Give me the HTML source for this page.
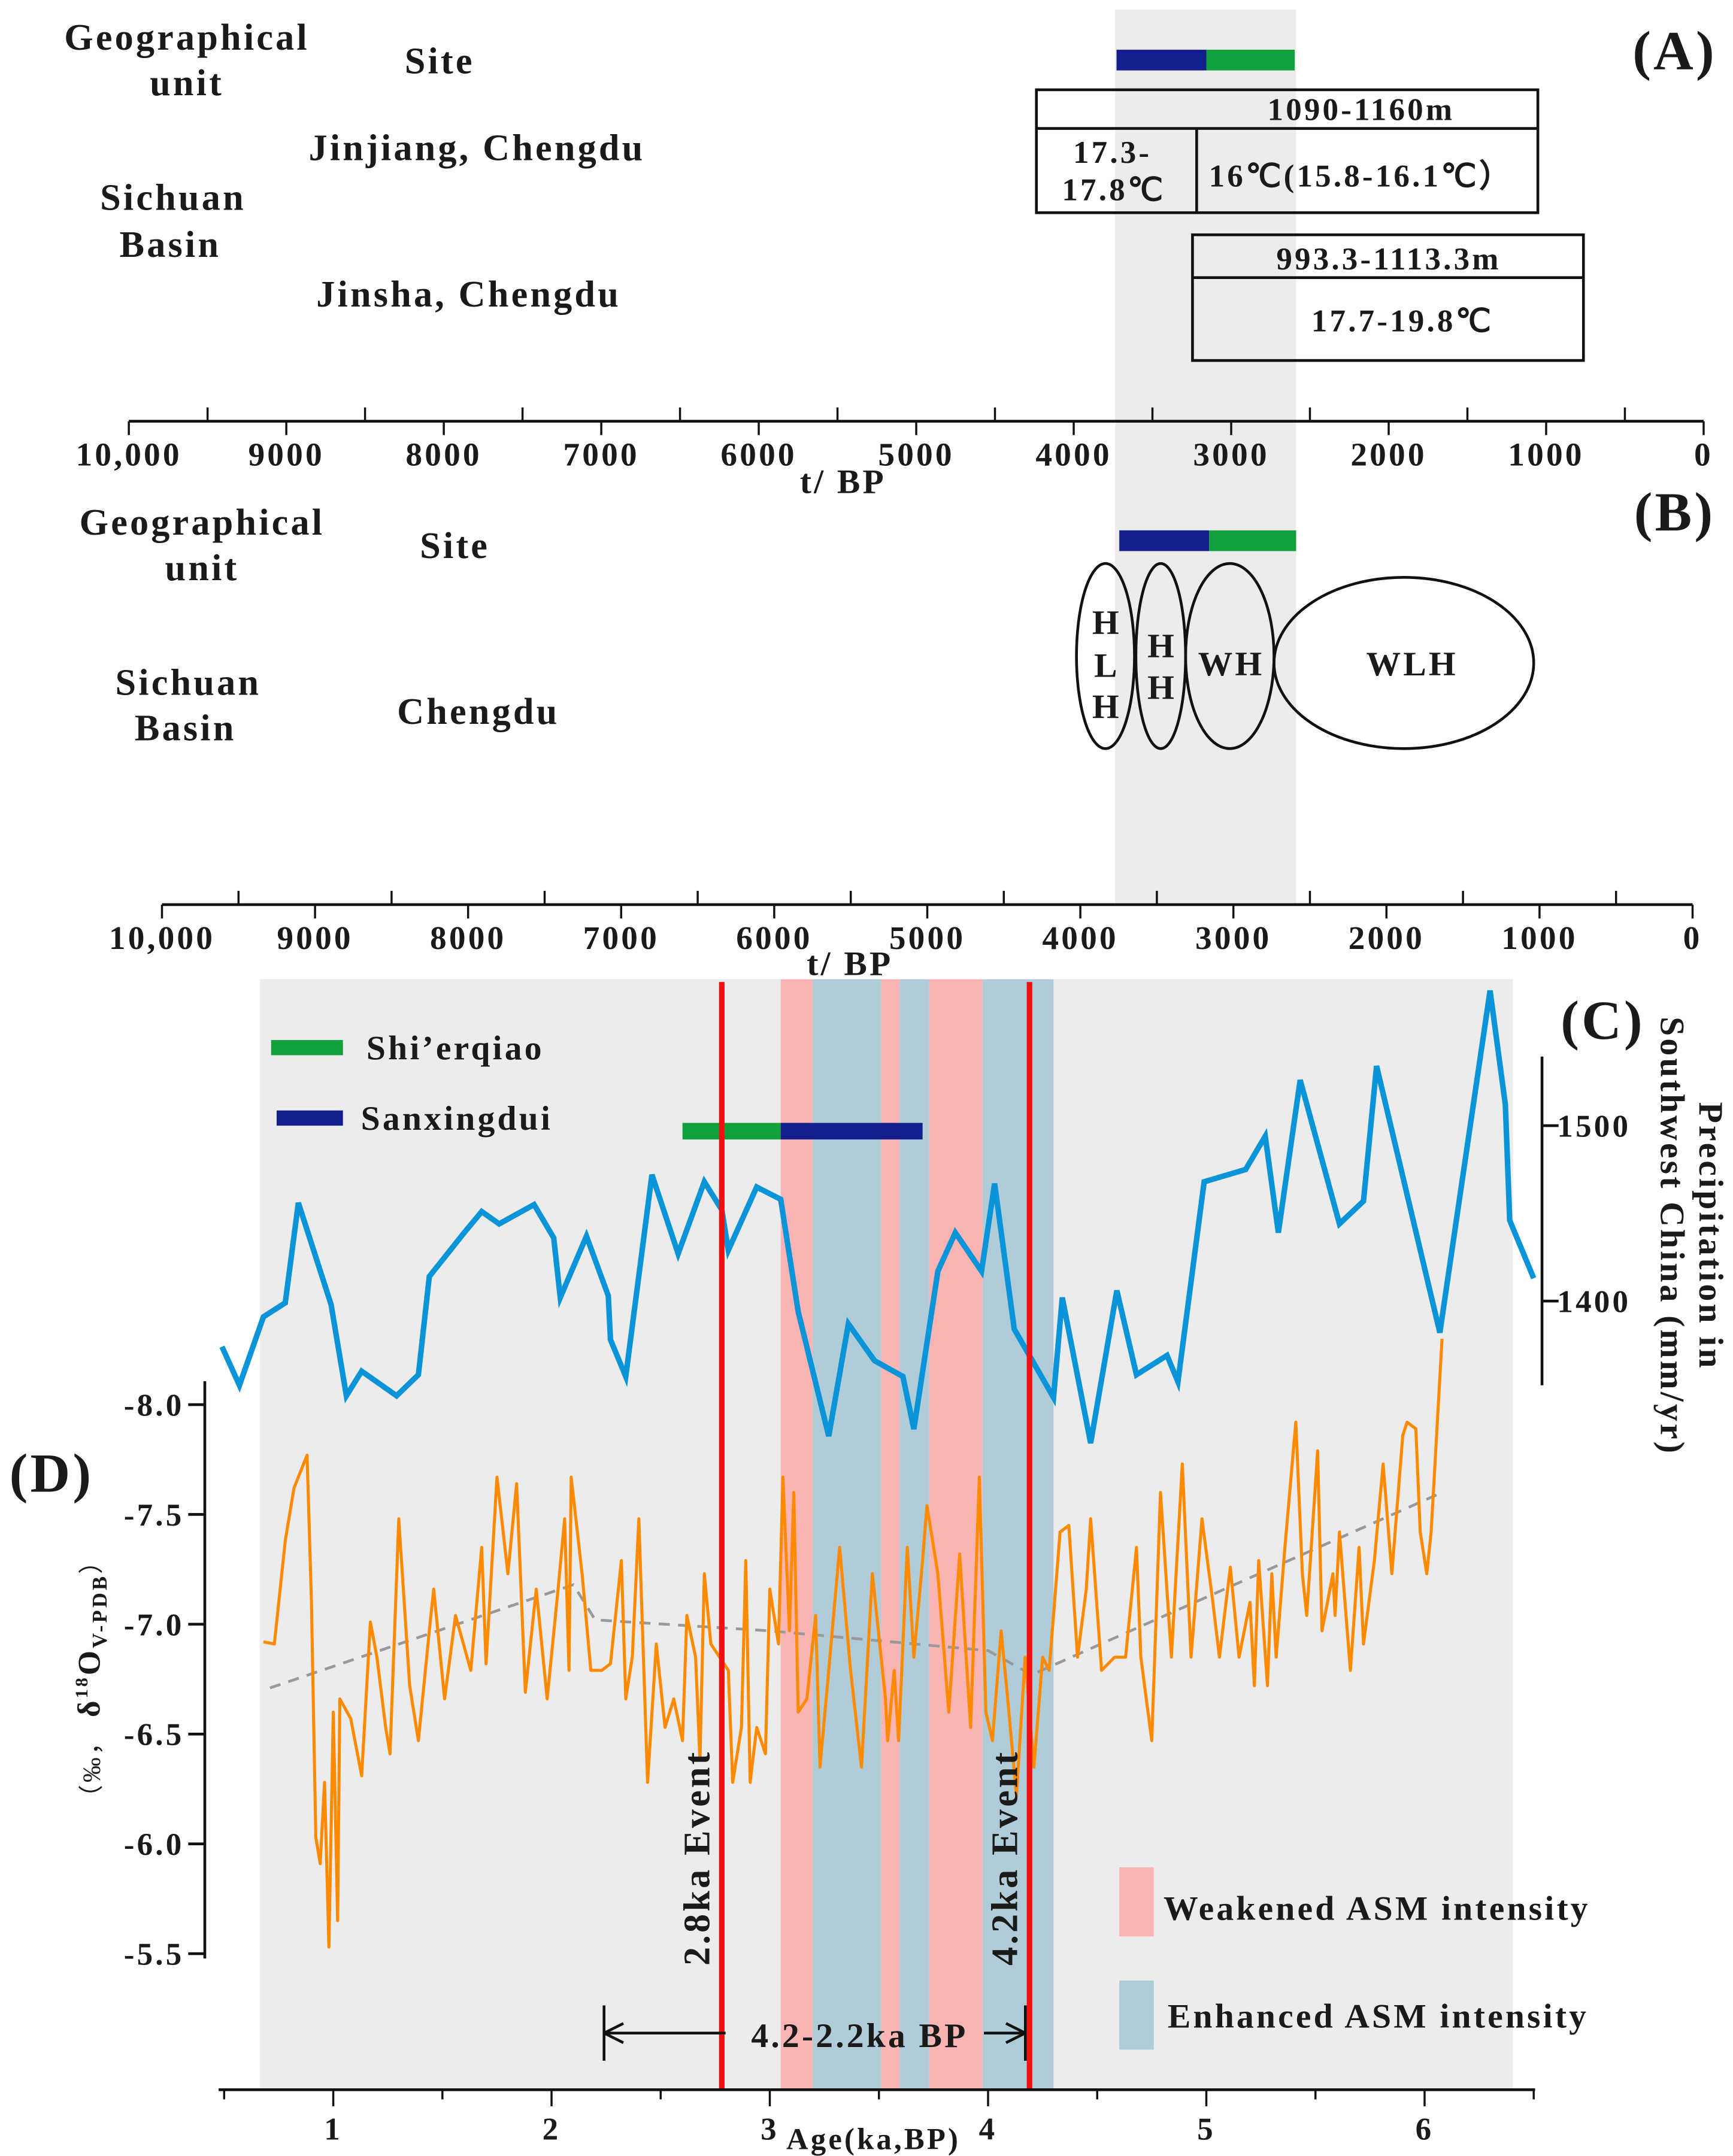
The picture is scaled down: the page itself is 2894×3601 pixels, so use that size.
<!DOCTYPE html>
<html><head><meta charset="utf-8"><style>
html,body{margin:0;padding:0;background:#fff}
svg{display:block}
text{font-family:"Liberation Serif",serif;font-weight:bold;fill:#1a1a1a;letter-spacing:1.8px}
</style></head><body>
<svg id="fig" width="2894" height="3601" viewBox="0 0 1254 1561" xmlns="http://www.w3.org/2000/svg">
<rect width="1254" height="1561" fill="#fff"/>
<rect x="807" y="7" width="131" height="648" fill="#ececec"/>

<g font-size="27">
<text x="1212" y="50" font-size="40" text-anchor="middle">(A)</text>
<text x="135" y="36" text-anchor="middle">Geographical</text>
<text x="135" y="69" text-anchor="middle">unit</text>
<text x="318" y="53" text-anchor="middle">Site</text>
<text x="345" y="116" text-anchor="middle">Jinjiang, Chengdu</text>
<text x="125" y="152" text-anchor="middle">Sichuan</text>
<text x="123" y="186" text-anchor="middle">Basin</text>
<text x="339" y="222" text-anchor="middle">Jinsha, Chengdu</text>
<rect x="808" y="36" width="65" height="15" fill="#141e8c"/>
<rect x="873" y="36" width="64" height="15" fill="#12a03c"/>
<g fill="none" stroke="#111" stroke-width="2">
<rect x="750" y="65" width="363" height="89"/>
<line x1="750" y1="93" x2="1113" y2="93"/><line x1="866" y1="93" x2="866" y2="154"/>
<rect x="863" y="170" width="283" height="91"/>
<line x1="863" y1="201" x2="1146" y2="201"/>
</g>
<g font-size="23">
<text x="985" y="87" text-anchor="middle">1090-1160m</text>
<text x="805" y="118" text-anchor="middle">17.3-</text>
<text x="806" y="145" text-anchor="middle">17.8℃</text>
<text x="985" y="135" text-anchor="middle">16℃(15.8-16.1℃）</text>
<text x="1005" y="195" text-anchor="middle">993.3-1113.3m</text>
<text x="1015" y="240" text-anchor="middle">17.7-19.8℃</text>
</g>
<g id="axisA"></g>
</g>

<g font-size="27">
<text x="1212" y="384" font-size="40" text-anchor="middle">(B)</text>
<text x="146" y="387" text-anchor="middle">Geographical</text>
<text x="146" y="420" text-anchor="middle">unit</text>
<text x="329" y="404" text-anchor="middle">Site</text>
<text x="136" y="503" text-anchor="middle">Sichuan</text>
<text x="134" y="536" text-anchor="middle">Basin</text>
<text x="346" y="524" text-anchor="middle">Chengdu</text>
<rect x="810" y="384" width="65" height="15" fill="#141e8c"/>
<rect x="875" y="384" width="63" height="15" fill="#12a03c"/>
<g fill="none" stroke="#111" stroke-width="2">
<ellipse cx="800" cy="475" rx="21" ry="67"/>
<ellipse cx="840" cy="475" rx="18" ry="67"/>
<ellipse cx="890" cy="475" rx="32" ry="67"/>
<ellipse cx="1016" cy="480" rx="94" ry="62"/>
</g>
<g font-size="25" text-anchor="middle">
<text x="801" y="459">H</text><text x="801" y="490">L</text><text x="801" y="520">H</text>
<text x="841" y="476">H</text><text x="841" y="506">H</text>
<text x="891" y="489">WH</text>
<text x="1022" y="489">WLH</text>
</g>
<g id="axisB"></g>
</g>

<g id="chart"></g>
</svg>
<script>
const timeTickLabels=["10,000","9000","8000","7000","6000","5000","4000","3000","2000","1000","0"];
const ageTicks=[1,2,3,4,5,6];
const d18OTicks=[-8.0,-7.5,-7.0,-6.5,-6.0,-5.5];
const precipTicks=[1500,1400];
const weakenedBands=[[3.05,3.196],[3.51,3.595],[3.73,3.975]];
const enhancedBands=[[3.196,3.51],[3.595,3.73],[3.975,4.30]];
const eventAges=[2.78,4.19];
const shierqiaoRange=[2.60,3.05];
const sanxingduiRange=[3.05,3.70];
const precipAges=[0.49,0.57,0.68,0.78,0.84,0.99,1.06,1.13,1.29,1.39,1.44,1.60,1.68,1.76,1.92,2.01,2.04,2.16,2.26,2.27,2.34,2.46,2.58,2.70,2.78,2.81,2.94,3.05,3.13,3.27,3.36,3.48,3.61,3.66,3.77,3.85,3.97,4.03,4.12,4.30,4.34,4.47,4.59,4.68,4.82,4.87,4.99,5.18,5.27,5.33,5.43,5.61,5.72,5.78,6.07,6.30,6.37,6.39,6.50];
const precipValues=[1374,1352,1391,1399,1456,1398,1346,1360,1346,1358,1414,1439,1451,1444,1455,1436,1402,1437,1403,1378,1357,1472,1427,1468,1452,1429,1465,1458,1394,1323,1387,1366,1357,1327,1417,1439,1417,1467,1384,1345,1402,1319,1406,1358,1369,1354,1468,1475,1494,1439,1526,1444,1457,1534,1382,1577,1512,1446,1413];
const d18OAges=[0.68,0.73,0.78,0.82,0.88,0.90,0.92,0.94,0.96,0.98,1.00,1.02,1.03,1.08,1.13,1.17,1.20,1.24,1.26,1.30,1.35,1.39,1.44,1.46,1.51,1.56,1.63,1.68,1.70,1.75,1.80,1.84,1.88,1.93,1.98,2.03,2.06,2.08,2.09,2.14,2.18,2.23,2.27,2.32,2.34,2.37,2.40,2.44,2.48,2.52,2.56,2.60,2.62,2.66,2.68,2.70,2.73,2.77,2.81,2.83,2.87,2.89,2.91,2.94,2.98,3.00,3.04,3.06,3.09,3.11,3.13,3.17,3.21,3.23,3.27,3.32,3.37,3.42,3.47,3.53,3.54,3.57,3.59,3.63,3.66,3.70,3.72,3.77,3.82,3.87,3.92,3.96,3.99,4.02,4.06,4.09,4.13,4.17,4.21,4.25,4.28,4.33,4.37,4.41,4.45,4.47,4.52,4.58,4.63,4.68,4.70,4.75,4.79,4.84,4.89,4.93,4.98,5.03,5.06,5.11,5.15,5.20,5.22,5.24,5.28,5.30,5.32,5.36,5.41,5.44,5.46,5.51,5.53,5.58,5.59,5.61,5.66,5.70,5.72,5.77,5.81,5.85,5.90,5.92,5.96,5.98,6.01,6.03,6.08];
const d18OValues=[-6.92,-6.91,-7.38,-7.62,-7.77,-7.10,-6.03,-5.91,-6.28,-5.53,-6.60,-5.65,-6.66,-6.57,-6.31,-7.01,-6.85,-6.53,-6.41,-7.48,-6.72,-6.47,-6.97,-7.16,-6.66,-7.04,-6.79,-7.35,-6.82,-7.67,-7.23,-7.64,-6.69,-7.16,-6.66,-7.16,-7.48,-6.79,-7.67,-7.23,-6.79,-6.79,-6.82,-7.29,-6.66,-6.85,-7.48,-6.28,-6.91,-6.53,-6.66,-6.47,-7.04,-6.85,-6.38,-7.23,-6.91,-6.85,-6.79,-6.28,-6.53,-7.29,-6.28,-6.53,-6.41,-7.16,-6.91,-7.67,-6.97,-7.60,-6.60,-6.66,-7.04,-6.35,-6.79,-7.35,-6.79,-6.35,-7.23,-6.66,-6.47,-6.79,-6.47,-7.35,-6.85,-7.29,-7.54,-7.23,-6.60,-7.32,-6.53,-7.67,-6.60,-6.47,-6.97,-6.66,-6.22,-6.85,-6.35,-6.85,-6.79,-7.42,-7.45,-6.85,-7.16,-7.48,-6.79,-6.85,-6.85,-7.35,-6.85,-6.47,-7.60,-6.85,-7.73,-6.85,-7.48,-7.10,-6.85,-7.26,-6.85,-7.10,-6.72,-7.29,-6.72,-7.23,-6.85,-7.35,-7.92,-7.23,-7.04,-7.79,-6.97,-7.23,-7.04,-7.42,-6.79,-7.35,-6.91,-7.29,-7.73,-7.23,-7.86,-7.92,-7.89,-7.42,-7.23,-7.42,-8.30];
const trendAges=[0.71,2.10,2.20,3.00,4.00,4.20,6.08];
const trendValues=[-6.71,-7.18,-7.02,-6.97,-6.88,-6.77,-7.60];

const xAge=a=>83+a*158;
const yD=v=>1017+(v+8)*159;
const yP=p=>815-(p-1500)*1.27;
const NS="http://www.w3.org/2000/svg";
function el(tag,attrs,parent,txt){const e=document.createElementNS(NS,tag);for(const k in attrs)e.setAttribute(k,attrs[k]);if(txt!==undefined)e.textContent=txt;parent.appendChild(e);return e;}

function timeAxis(g,x0,x1,y,ly,tx,ty){
  el('line',{x1:x0,y1:y,x2:x1,y2:y,stroke:'#111','stroke-width':2},g);
  const step=(x1-x0)/10;
  for(let i=0;i<=20;i++){const x=x0+i*step/2;el('line',{x1:x,y1:y-(i%2?10:0),x2:x,y2:y+(i%2?0:10),stroke:'#111','stroke-width':1.5},g);}
  timeTickLabels.forEach((t,i)=>{const lab=el('text',{x:x0+i*step,y:ly,'text-anchor':'middle','font-size':24},g,t);
    
    });
  const tl=el('text',{x:tx,y:ty,'text-anchor':'middle','font-size':25},g,'t/ BP');
  
  
}
timeAxis(document.getElementById('axisA'),93,1233,305,337,610,357);
timeAxis(document.getElementById('axisB'),117,1225,655,687,615,706);

const g=document.getElementById('chart');
const bg=el('rect',{x:188,y:709,width:907,height:804,fill:'#ececec'},g);


weakenedBands.forEach(b=>{const r=el('rect',{x:xAge(b[0]),y:709,width:xAge(b[1])-xAge(b[0]),height:804,fill:'#fbb4b4'},g);
  
  });
enhancedBands.forEach(b=>{const r=el('rect',{x:xAge(b[0]),y:709,width:xAge(b[1])-xAge(b[0]),height:804,fill:'#afccd8'},g);
  
  });

const sb=el('rect',{x:xAge(shierqiaoRange[0]),y:813,width:xAge(shierqiaoRange[1])-xAge(shierqiaoRange[0]),height:12,fill:'#12a03c'},g);


const xb=el('rect',{x:xAge(sanxingduiRange[0]),y:813,width:xAge(sanxingduiRange[1])-xAge(sanxingduiRange[0]),height:12,fill:'#141e8c'},g);



const tr=el('polyline',{points:trendAges.map((a,i)=>xAge(a)+','+yD(trendValues[i])).join(' '),fill:'none',stroke:'#999','stroke-width':2,'stroke-dasharray':'8,6'},g);


const ol=el('polyline',{points:d18OAges.map((a,i)=>xAge(a)+','+yD(d18OValues[i])).join(' '),fill:'none',stroke:'#ff8a00','stroke-width':2.2,'stroke-linejoin':'round'},g);


const pl=el('polyline',{points:precipAges.map((a,i)=>xAge(a)+','+yP(precipValues[i])).join(' '),fill:'none',stroke:'#0b95d8','stroke-width':4,'stroke-linejoin':'miter'},g);



const evNames=['2.8ka Event','4.2ka Event'];
eventAges.forEach((a,i)=>{const l=el('line',{x1:xAge(a),y1:711,x2:xAge(a),y2:1513,stroke:'#f01010','stroke-width':4},g);
  
  
  const t=el('text',{x:0,y:0,'font-size':27,'text-anchor':'middle',transform:`translate(${xAge(a)-9},1345) rotate(-90)`},g,evNames[i]);
  
  });

const ax=el('g',{},g);


el('line',{x1:158,y1:1513,x2:1111,y2:1513,stroke:'#111','stroke-width':2},ax);
for(let a=0.5;a<=6.5;a+=0.5){const x=xAge(a);el('line',{x1:x,y1:1513,x2:x,y2:a%1===0?1525:1520,stroke:'#111','stroke-width':1.5},ax);}
ageTicks.forEach(a=>{const t=el('text',{x:xAge(a),y:1549,'text-anchor':'middle','font-size':23},ax,String(a));
  
  });
const at=el('text',{x:632,y:1556,'text-anchor':'middle','font-size':22},ax,'Age(ka,BP)');



const la=el('g',{},g);


el('line',{x1:148,y1:1000,x2:148,y2:1418,stroke:'#111','stroke-width':2},la);
d18OTicks.forEach(v=>{el('line',{x1:136,y1:yD(v),x2:148,y2:yD(v),stroke:'#111','stroke-width':2},la);
  const t=el('text',{x:133,y:yD(v)+8,'text-anchor':'end','font-size':23},la,v.toFixed(1));
  
  });
const yt=el('text',{'font-size':23,'text-anchor':'middle',transform:'translate(72,1215) rotate(-90)'},la);


yt.innerHTML='<tspan font-weight="normal" font-size="18">（‰，</tspan> <tspan>δ</tspan><tspan font-size="13" dy="-9">18</tspan><tspan dy="9">O</tspan><tspan font-size="15" dy="5">V-PDB</tspan><tspan dy="-5" font-weight="normal" font-size="18">）</tspan>';

const ra=el('g',{},g);


el('line',{x1:1116,y1:765,x2:1116,y2:1003,stroke:'#111','stroke-width':2},ra);
precipTicks.forEach(p=>{el('line',{x1:1116,y1:yP(p),x2:1128,y2:yP(p),stroke:'#111','stroke-width':2},ra);
  const t=el('text',{x:1127,y:yP(p)+8,'font-size':23},ra,String(p));
  
  });
const pt=el('text',{'font-size':25,'text-anchor':'middle',transform:'translate(1230,895) rotate(90)'},ra,'Precipitation in');


const pt2=el('text',{'font-size':25,'text-anchor':'middle',transform:'translate(1202,895) rotate(90)'},ra,'Southwest China (mm/yr)');



const lc=el('text',{x:1160,y:752,'font-size':40,'text-anchor':'middle'},g,'(C)');


const ld=el('text',{x:37,y:1080,'font-size':40,'text-anchor':'middle'},g,'(D)');



const lg=el('g',{},g);


el('rect',{x:196,y:753,width:52,height:11,fill:'#12a03c'},lg);
el('text',{x:265,y:767,'font-size':25},lg,'Shi’erqiao');
el('rect',{x:200,y:804,width:48,height:11,fill:'#141e8c'},lg);
el('text',{x:261,y:818,'font-size':25},lg,'Sanxingdui');
const lg2=el('g',{},g);


el('rect',{x:810,y:1352,width:25,height:50,fill:'#fbb4b4'},lg2);
el('text',{x:842,y:1390,'font-size':25},lg2,'Weakened ASM intensity');
el('rect',{x:810,y:1434,width:25,height:50,fill:'#afccd8'},lg2);
el('text',{x:845,y:1468,'font-size':25},lg2,'Enhanced ASM intensity');

const ar=el('g',{},g);


el('line',{x1:437,y1:1472,x2:525,y2:1472,stroke:'#111','stroke-width':2},ar);
el('line',{x1:712,y1:1472,x2:742,y2:1472,stroke:'#111','stroke-width':2},ar);
el('line',{x1:437,y1:1452,x2:437,y2:1492,stroke:'#111','stroke-width':2},ar);
el('line',{x1:742,y1:1452,x2:742,y2:1492,stroke:'#111','stroke-width':2},ar);
el('path',{d:'M437,1472 l14,-7 M437,1472 l14,7 M742,1472 l-14,-7 M742,1472 l-14,7',stroke:'#111','stroke-width':2,fill:'none'},ar);
el('text',{x:622,y:1482,'font-size':25,'text-anchor':'middle'},ar,'4.2-2.2ka BP');
</script>
</body></html>
